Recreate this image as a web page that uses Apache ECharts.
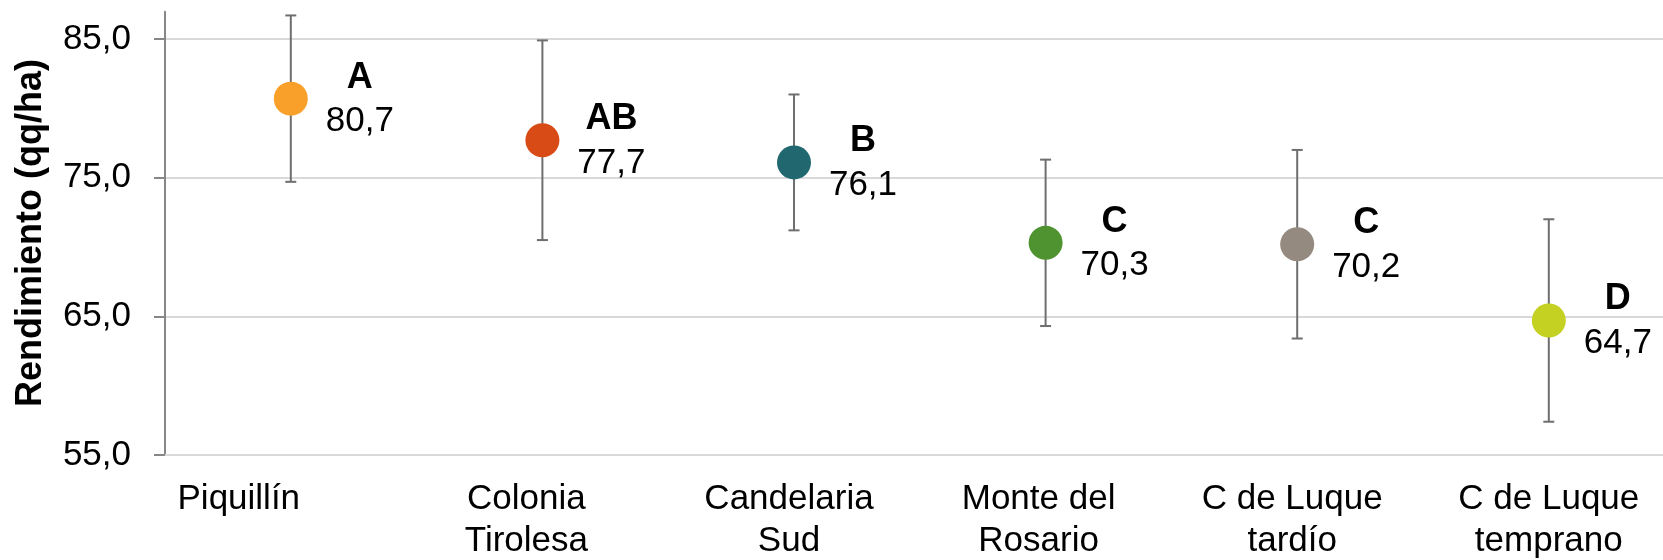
<!DOCTYPE html>
<html>
<head>
<meta charset="utf-8">
<script src="https://cdn.jsdelivr.net/npm/echarts@6/dist/echarts.min.js"></script>
<style>
  html, body { margin: 0; padding: 0; background: #ffffff; }
  #chart { width: 1663px; height: 560px; }
</style>
</head>
<body>
<div id="chart"></div>
<script>
// ---------------- DATA ----------------
const categories = ['Piquillín', 'Colonia\nTirolesa', 'Candelaria\nSud', 'Monte del\nRosario', 'C de Luque\ntardío', 'C de Luque\ntemprano'];
const means = [80.7, 77.7, 76.1, 70.3, 70.2, 64.7];
const errors = [6.0, 7.2, 4.9, 6.0, 6.8, 7.3];
const letters = ['A', 'AB', 'B', 'C', 'C', 'D'];
const yTicks = [55, 65, 75, 85];
const yAxisTitle = 'Rendimiento (qq/ha)';

// ---------------- STYLE ----------------
const pointColors = ['#F9A02A', '#D84B16', '#21676F', '#4F9331', '#958A80', '#C4D022'];
const labelShift = [52, 16, 5, 7, 5, 0]; // leftward shift of category labels (px)
const FONT = 'Liberation Sans, Arial, sans-serif';
const axisGray = '#878787';
const gridGray = '#D9D9D9';
const barGray = '#6E6E6E';
const TXT = 35;

const fmt = v => v.toFixed(1).replace('.', ',');

const gridLeft = 165, gridWidth = 1509.6, gridBottom = 105;

const chart = echarts.init(document.getElementById('chart'), null, { renderer: 'canvas' });

const option = {
  animation: false,
  backgroundColor: '#ffffff',
  grid: [
    { left: gridLeft, top: 39, bottom: gridBottom, width: gridWidth, containLabel: false, outerBoundsMode: 'none' },
    { left: gridLeft, top: 11.7, bottom: gridBottom, width: gridWidth, containLabel: false, outerBoundsMode: 'none' }
  ],
  xAxis: [
    {
      type: 'category',
      gridIndex: 0,
      boundaryGap: true,
      data: categories.map((c, i) => ({
        value: c,
        textStyle: { padding: [0, labelShift[i] * 2, 0, 0] }
      })),
      axisLine: { show: true, lineStyle: { color: gridGray, width: 2 } },
      axisTick: { show: false },
      axisLabel: {
        interval: 0,
        margin: 23.5,
        color: '#000000',
        fontFamily: FONT,
        fontSize: TXT,
        lineHeight: 42,
        align: 'center'
      },
      splitLine: { show: false }
    },
    {
      type: 'category',
      gridIndex: 1,
      data: categories,
      show: false
    }
  ],
  yAxis: [
    {
      type: 'value',
      gridIndex: 0,
      min: yTicks[0],
      max: yTicks[yTicks.length - 1],
      interval: yTicks[1] - yTicks[0],
      axisLine: { show: true, lineStyle: { color: axisGray, width: 2 } },
      axisTick: { show: true, inside: false, length: 11, lineStyle: { color: axisGray, width: 2 } },
      axisLabel: {
        margin: 34,
        color: '#000000',
        fontFamily: FONT,
        fontSize: TXT,
        formatter: v => fmt(v)
      },
      splitLine: { show: true, lineStyle: { color: gridGray, width: 2 } },
      name: yAxisTitle,
      nameLocation: 'middle',
      nameGap: 116,
      nameTextStyle: {
        color: '#000000',
        fontFamily: FONT,
        fontWeight: 'bold',
        fontSize: 36,
        padding: [0, 0, 0, 28]
      }
    },
    {
      type: 'value',
      gridIndex: 1,
      min: 0,
      max: 1,
      axisLine: { show: true, lineStyle: { color: axisGray, width: 2 } },
      axisTick: { show: false },
      axisLabel: { show: false },
      splitLine: { show: false }
    }
  ],
  series: [
    {
      name: 'Error',
      type: 'custom',
      xAxisIndex: 0,
      yAxisIndex: 0,
      clip: false,
      z: 2,
      data: means.map((m, i) => [i, m - errors[i], m + errors[i]]),
      renderItem: function (params, api) {
        const idx = api.value(0);
        const lo = api.coord([idx, api.value(1)]);
        const hi = api.coord([idx, api.value(2)]);
        const cap = 5.5;
        const style = { stroke: barGray, lineWidth: 2, fill: null };
        return {
          type: 'group',
          children: [
            { type: 'line', shape: { x1: hi[0], y1: hi[1], x2: lo[0], y2: lo[1] }, style: style },
            { type: 'line', shape: { x1: hi[0] - cap, y1: hi[1], x2: hi[0] + cap, y2: hi[1] }, style: style },
            { type: 'line', shape: { x1: lo[0] - cap, y1: lo[1], x2: lo[0] + cap, y2: lo[1] }, style: style }
          ]
        };
      }
    },
    {
      name: 'Rendimiento',
      type: 'scatter',
      xAxisIndex: 0,
      yAxisIndex: 0,
      z: 5,
      clip: false,
      symbol: 'circle',
      symbolSize: 34,
      itemStyle: { opacity: 1 },
      data: means.map((m, i) => ({
        value: [i, m],
        itemStyle: { color: pointColors[i], opacity: 1 },
        label: {
          formatter: '{l|' + letters[i] + '}\n{v|' + fmt(m) + '}'
        }
      })),
      label: {
        show: true,
        position: [86, 18],
        align: 'center',
        verticalAlign: 'middle',
        color: '#000000',
        opacity: 1,
        rich: {
          l: { fontFamily: FONT, fontWeight: 'bold', fontSize: 36, lineHeight: 44, color: '#000000', align: 'center' },
          v: { fontFamily: FONT, fontSize: TXT, lineHeight: 44, color: '#000000', align: 'center' }
        }
      },
      emphasis: { disabled: true }
    }
  ]
};

chart.setOption(option);
</script>
</body>
</html>
